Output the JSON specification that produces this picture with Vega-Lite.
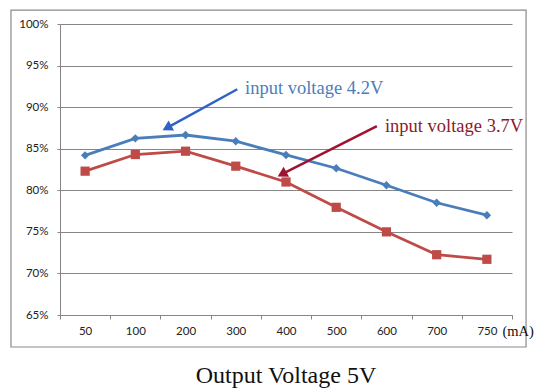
{
  "$schema": "https://vega.github.io/schema/vega-lite/v6.json",
  "width": 452,
  "height": 291,
  "autosize": "none",
  "padding": {"left": 60, "top": 24, "right": 23, "bottom": 77},
  "background": "white",
  "config": {"view": {"stroke": null}},
  "title": {
    "text": "Output Voltage 5V",
    "orient": "bottom",
    "anchor": "middle",
    "frame": "group",
    "offset": 16,
    "baseline": "top",
    "font": "Liberation Serif",
    "fontSize": 24,
    "fontWeight": "normal",
    "color": "#111111"
  },
  "datasets": {
    "series": [
      {"current": "50", "input": "4.2V", "efficiency": 84.2},
      {"current": "100", "input": "4.2V", "efficiency": 86.25},
      {"current": "200", "input": "4.2V", "efficiency": 86.65},
      {"current": "300", "input": "4.2V", "efficiency": 85.9},
      {"current": "400", "input": "4.2V", "efficiency": 84.25},
      {"current": "500", "input": "4.2V", "efficiency": 82.65},
      {"current": "600", "input": "4.2V", "efficiency": 80.6},
      {"current": "700", "input": "4.2V", "efficiency": 78.5},
      {"current": "750", "input": "4.2V", "efficiency": 77.0},
      {"current": "50", "input": "3.7V", "efficiency": 82.3},
      {"current": "100", "input": "3.7V", "efficiency": 84.3},
      {"current": "200", "input": "3.7V", "efficiency": 84.7},
      {"current": "300", "input": "3.7V", "efficiency": 82.9},
      {"current": "400", "input": "3.7V", "efficiency": 81.0},
      {"current": "500", "input": "3.7V", "efficiency": 77.95},
      {"current": "600", "input": "3.7V", "efficiency": 75.0},
      {"current": "700", "input": "3.7V", "efficiency": 72.25},
      {"current": "750", "input": "3.7V", "efficiency": 71.7}
    ],
    "arrows": [
      {"key": "arrow 4.2V", "x": 3.53, "y": 92.15, "x2": 2.13, "y2": 87.5},
      {"key": "arrow 3.7V", "x": 6.31, "y": 87.73, "x2": 4.42, "y2": 81.95}
    ],
    "labels": [
      {"key": "label 4.2V", "x": 3.684, "y": 92.3, "text": "input voltage 4.2V", "size": "big"},
      {"key": "label 3.7V", "x": 6.47, "y": 87.73, "text": "input voltage 3.7V", "size": "big"},
      {"key": "unit", "x": 8.81, "y": 63.0, "text": "(mA)", "size": "small"}
    ],
    "frame": [
      {"x": -0.976, "x2": 9.28, "y": 101.68, "y2": 61.15}
    ]
  },
  "resolve": {"scale": {"x": "independent", "color": "independent", "size": "independent"}},
  "layer": [
    {
      "data": {"name": "series"},
      "encoding": {
        "x": {
          "field": "current",
          "type": "ordinal",
          "sort": null,
          "scale": {"paddingInner": 0, "paddingOuter": 0},
          "axis": {
            "title": null,
            "labelAngle": 0,
            "tickBand": "extent",
            "tickSize": 4,
            "tickColor": "#868686",
            "domainColor": "#868686",
            "labelFont": "Lato",
            "labelFontSize": 11.5,
            "labelColor": "#222222",
            "labelPadding": 6
          }
        },
        "y": {
          "field": "efficiency",
          "type": "quantitative",
          "scale": {"domain": [65, 100], "nice": false, "zero": false},
          "axis": {
            "title": null,
            "values": [65, 70, 75, 80, 85, 90, 95, 100],
            "labelExpr": "datum.value + '%'",
            "tickSize": 3,
            "tickColor": "#868686",
            "domainColor": "#868686",
            "gridColor": "#868686",
            "gridWidth": 1,
            "labelFont": "Lato",
            "labelFontSize": 11.5,
            "labelColor": "#222222",
            "labelPadding": 9
          }
        },
        "color": {
          "field": "input",
          "type": "nominal",
          "scale": {"domain": ["4.2V", "3.7V"], "range": ["#4a7ebb", "#be4b48"]},
          "legend": null
        }
      },
      "layer": [
        {"mark": {"type": "line", "strokeWidth": 2.8}},
        {
          "mark": {"type": "point", "filled": true, "opacity": 1},
          "encoding": {
            "shape": {
              "field": "input",
              "type": "nominal",
              "scale": {"domain": ["4.2V", "3.7V"], "range": ["diamond", "square"]},
              "legend": null
            },
            "size": {
              "field": "input",
              "type": "nominal",
              "scale": {"domain": ["4.2V", "3.7V"], "range": [70, 85]},
              "legend": null
            }
          }
        }
      ]
    },
    {
      "layer": [
        {
          "data": {"name": "frame"},
          "mark": {"type": "rect", "fill": null, "stroke": "#8a8a8a", "strokeWidth": 1.2},
          "encoding": {
            "x": {"field": "x", "type": "quantitative", "scale": {"domain": [0, 9], "nice": false, "zero": false}, "axis": null},
            "x2": {"field": "x2"},
            "y": {"field": "y", "type": "quantitative"},
            "y2": {"field": "y2"}
          }
        },
        {
          "data": {"name": "arrows"},
          "mark": {"type": "rule", "strokeWidth": 2.5},
          "encoding": {
            "x": {"field": "x", "type": "quantitative", "axis": null},
            "x2": {"field": "x2"},
            "y": {"field": "y", "type": "quantitative"},
            "y2": {"field": "y2"},
            "color": {"field": "key", "type": "nominal", "scale": {"domain": ["arrow 4.2V", "arrow 3.7V", "label 4.2V", "label 3.7V", "unit"], "range": ["#2f62c4", "#a01232", "#4a7ebb", "#8b1a2b", "#111111"]}, "legend": null}
          }
        },
        {
          "data": {"name": "arrows"},
          "mark": {"type": "point", "shape": "triangle-up", "filled": true, "opacity": 1, "size": 130, "angle": 241.5},
          "encoding": {
            "x": {"field": "x2", "type": "quantitative", "axis": null},
            "y": {"field": "y2", "type": "quantitative"},
            "color": {"field": "key", "type": "nominal", "legend": null}
          }
        },
        {
          "data": {"name": "labels"},
          "mark": {"type": "text", "align": "left", "baseline": "middle", "font": "Liberation Serif"},
          "encoding": {
            "x": {"field": "x", "type": "quantitative", "axis": null},
            "y": {"field": "y", "type": "quantitative"},
            "text": {"field": "text"},
            "size": {"field": "size", "type": "nominal", "scale": {"domain": ["big", "small"], "range": [18.5, 14.5]}, "legend": null},
            "color": {"field": "key", "type": "nominal", "legend": null}
          }
        }
      ]
    }
  ]
}
